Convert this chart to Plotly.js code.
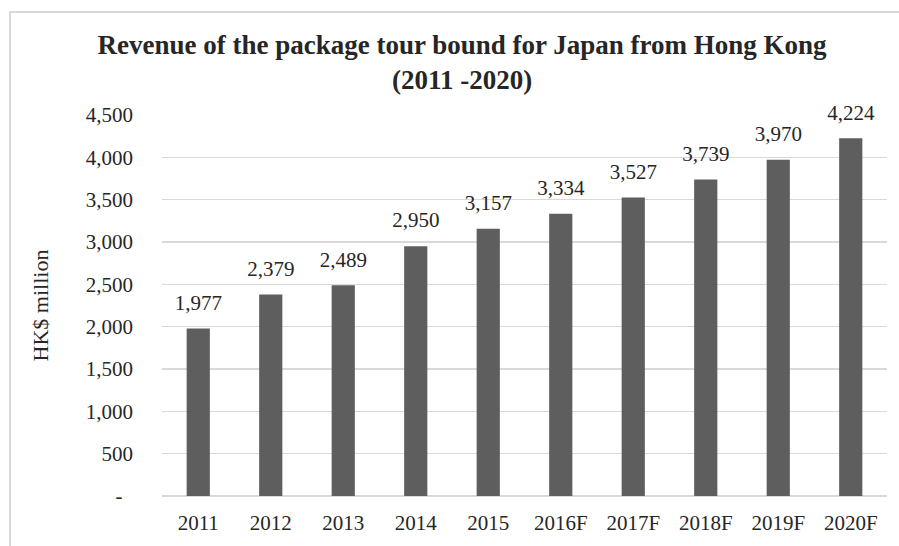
<!DOCTYPE html>
<html>
<head>
<meta charset="utf-8">
<script src="https://cdn.plot.ly/plotly-3.0.1.min.js"></script>
<style>
  html, body { margin: 0; padding: 0; background: #fff; }
  #chart { width: 899px; height: 546px; }
  #frame { position: absolute; left: 9px; top: 11px; width: 1000px; height: 600px;
           border: 2px solid #d9d9d9; pointer-events: none; }
</style>
</head>
<body>
<div id="chart"></div>
<div id="frame"></div>
<script>
const years = ['2011','2012','2013','2014','2015','2016F','2017F','2018F','2019F','2020F'];
const revenue = [1977, 2379, 2489, 2950, 3157, 3334, 3527, 3739, 3970, 4224];
const yTickVals = [0, 500, 1000, 1500, 2000, 2500, 3000, 3500, 4000, 4500];
const yTickText = ['-\u00a0\u00a0', '500', '1,000', '1,500', '2,000', '2,500', '3,000', '3,500', '4,000', '4,500'];
const chartTitle = 'Revenue of the package tour bound for Japan from Hong Kong<br>(2011 -2020)';
const yTitle = 'HK$ million';

const fmt = v => v.toLocaleString('en-US');
const FONT = '"Liberation Serif", "Times New Roman", serif';

const bars = {
  type: 'bar',
  x: years,
  y: revenue,
  width: 0.32,
  marker: { color: '#5e5e5e' },
  hoverinfo: 'x+y'
};

const labels = {
  type: 'scatter',
  mode: 'markers+text',
  x: years,
  y: revenue,
  text: revenue.map(fmt),
  textposition: 'top center',
  marker: { size: 20, opacity: 0 },
  textfont: { family: FONT, size: 21, color: '#262626' },
  hoverinfo: 'skip',
  cliponaxis: false
};

const layout = {
  width: 899, height: 546,
  margin: { l: 162, r: 12, t: 115, b: 50 },
  paper_bgcolor: '#ffffff', plot_bgcolor: '#ffffff',
  font: { family: FONT, size: 21, color: '#262626' },
  showlegend: false,
  title: {
    text: chartTitle,
    font: { family: FONT, size: 27, color: '#262626', weight: 'bold' },
    xref: 'container', yref: 'container',
    x: 0.514, xanchor: 'center', y: 0.901, yanchor: 'top'
  },
  xaxis: {
    type: 'category',
    categoryorder: 'array', categoryarray: years,
    range: [-0.5, years.length - 0.5],
    showgrid: false, zeroline: false, showline: false, ticks: '',
    ticklabelstandoff: 12,
    tickfont: { family: FONT, size: 21, color: '#262626' }
  },
  yaxis: {
    range: [0, 4500],
    tickvals: yTickVals, ticktext: yTickText,
    showgrid: true, gridcolor: '#d9d9d9', gridwidth: 1.5,
    zeroline: true, zerolinecolor: '#d9d9d9', zerolinewidth: 1.5,
    showline: false, ticks: '',
    ticklabelstandoff: 28,
    tickfont: { family: FONT, size: 21, color: '#262626' },
    title: { text: yTitle, font: { family: FONT, size: 22, color: '#262626' }, standoff: 31 }
  }
};

Plotly.newPlot('chart', [bars, labels], layout, { displayModeBar: false, staticPlot: true });
</script>
</body>
</html>
